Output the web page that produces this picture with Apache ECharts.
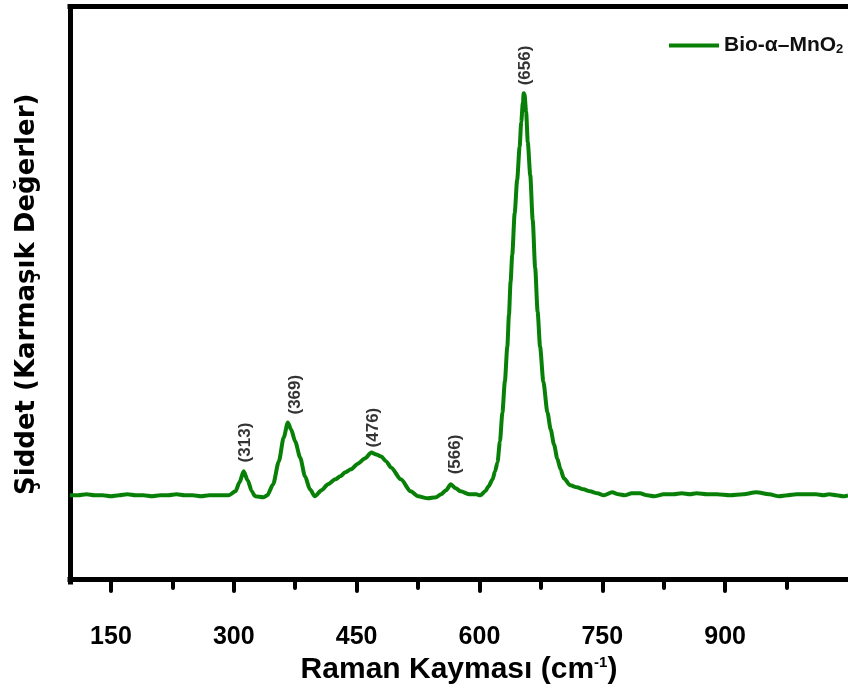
<!DOCTYPE html>
<html><head><meta charset="utf-8">
<script src="https://cdn.jsdelivr.net/npm/echarts@6/dist/echarts.min.js"></script>
<style>html,body{margin:0;padding:0;background:#fff}#c{width:848px;height:690px}</style>
</head><body><div id="c"></div>
<script>
const ramanShift = [100,110,120,130,140,150,160,170,180,190,200,210,220,230,240,250,260,270,280,290,
  294,302,307,312,317,322,326,336,341,348,355,361,366,370,375,381,387,393,399,407,415,424,430,436,443,452,460,468,474,480,486,492,504,516,525,537,547,553,559,565,571,577,588,596,601,
  607,611,616,619,622,625,628,631,634,636,638,640,643,646,649,651,653,654,655,657,659,662,665,668,671,674,678,683,687,691,695,699,703,711,719,727,735,744,752,762,770,777,786,796,805,813,825,837,847,857,865,878,890,906,922,938,954,966,976,987,1000,1011,1020,1027,1036,1044,1050];
const intensity = [84,84,85,84,84,83,84,85,84,84,83,84,84,85,84,84,83,84,84,84,
  84,88,97,108,99,88,83,82,84,95,118,142,157,150,138,122,103,90,83,89,95,100,103,107,110,116,121,127,125,123,118,112,100,88,83,81,82,85,89,95,91,88,85,85,84,
  88,93,100,108,117,138,167,198,233,265,298,325,367,400,433,458,478,487,486,468,438,405,360,312,268,233,198,167,150,135,121,110,101,94,92,90,88,86,84,87,85,84,86,86,84,83,85,85,86,85,86,85,85,84,85,87,85,83,84,85,85,85,84,85,84,83,84];
const xTickValues = [150,300,450,600,750,900];
const xMinorTickValues = [225,375,525,675,825,975];
const peakLabels = ['(313)','(369)','(476)','(566)','(656)'];
const peakLabelX = [314,375,470,570,656];
const peakLabelY = [117,165,132,105,495];
const seriesName = 'Bio-α–MnO2';

const sans = '"Liberation Sans", Arial, sans-serif';

const chart = echarts.init(document.getElementById('c'), null, {renderer: 'canvas'});
const axisLineStyle = {color: '#000', width: 5, cap: 'square'};
chart.setOption({
  animation: false,
  backgroundColor: '#fff',
  grid: {left: 70, right: -4, top: 6.5, bottom: 107.5, containLabel: false},
  legend: {
    data: [seriesName], left: 664, top: 30, icon: 'rect', itemWidth: 50, itemHeight: 4, itemGap: 6,
    formatter: () => '{a|Bio-α–MnO}{s|2}',
    textStyle: {rich: {
      a: {fontFamily: sans, fontWeight: 'bold', fontSize: 21, color: '#111'},
      s: {fontFamily: sans, fontWeight: 'bold', fontSize: 13, color: '#111', verticalAlign: 'bottom', padding: [8,0,0,0]}
    }}
  },
  xAxis: [{
    type: 'value', min: 100, max: 1050, position: 'bottom',
    axisLine: {show: true, lineStyle: axisLineStyle},
    axisTick: {show: true, customValues: xTickValues, length: 12, lineStyle: {color: '#000', width: 4, cap: 'round'}},
    axisLabel: {show: true, customValues: xTickValues, margin: 43, fontFamily: sans, fontWeight: 'bold', fontSize: 25, color: '#000'},
    splitLine: {show: false},
    name: '{a|Raman Kayması (cm}{s|-1}{a|)}', nameLocation: 'middle', nameGap: 71,
    nameTextStyle: {rich: {
      a: {fontFamily: sans, fontWeight: 'bold', fontSize: 30, color: '#000'},
      s: {fontFamily: sans, fontWeight: 'bold', fontSize: 15, color: '#000', verticalAlign: 'top'}
    }}
  }, {
    type: 'value', min: 100, max: 1050, position: 'bottom',
    axisLine: {show: false},
    axisTick: {show: true, customValues: xMinorTickValues, length: 6, lineStyle: {color: '#000', width: 4, cap: 'round'}},
    axisLabel: {show: false}, splitLine: {show: false}
  }, {
    type: 'value', min: 100, max: 1050, position: 'top',
    axisLine: {show: true, lineStyle: axisLineStyle},
    axisTick: {show: false}, axisLabel: {show: false}, splitLine: {show: false}
  }],
  yAxis: [{
    type: 'value', min: -3, max: 574, position: 'left',
    axisLine: {show: true, lineStyle: axisLineStyle},
    axisTick: {show: false}, axisLabel: {show: false}, splitLine: {show: false},
    name: 'Şiddet (Karmaşık Değerler)', nameLocation: 'middle', nameGap: 30,
    nameTextStyle: {fontFamily: '"DejaVu Sans", sans-serif', fontWeight: 'bold', fontSize: 26, color: '#000'}
  }],
  series: [{
    name: seriesName, type: 'line', xAxisIndex: 0, yAxisIndex: 0,
    data: ramanShift.map((x, i) => [x, intensity[i]]),
    showSymbol: false, smooth: 0.25, smoothMonotone: 'x',
    lineStyle: {color: '#088008', width: 4}, itemStyle: {color: '#088008'}
  }, {
    name: 'labels', type: 'scatter', symbolSize: 0, silent: true,
    data: peakLabelX.map((x, i) => ({name: peakLabels[i], value: [x, peakLabelY[i]]})),
    label: {show: true, formatter: '{b}', position: 'top', distance: 0, rotate: 90, align: 'left', verticalAlign: 'middle',
      fontFamily: sans, fontWeight: 'bold', fontSize: 17, color: '#000'}
  }]
});
</script></body></html>
